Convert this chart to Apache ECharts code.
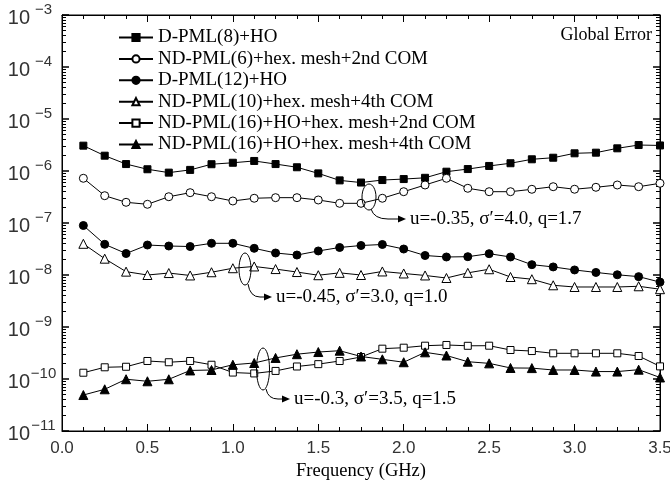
<!DOCTYPE html>
<html>
<head>
<meta charset="utf-8">
<script src="https://cdn.jsdelivr.net/npm/echarts@6/dist/echarts.min.js"></script>
<style>html,body{margin:0;padding:0;background:#fff;}#c{width:670px;height:481px;}</style>
</head>
<body>
<div id="c"></div>
<script>
// ---- data ----
const freqs = [0.125,0.25,0.375,0.5,0.625,0.75,0.875,1.0,1.125,1.25,1.375,1.5,1.625,1.75,1.875,2.0,2.125,2.25,2.375,2.5,2.625,2.75,2.875,3.0,3.125,3.25,3.375,3.5];
const seriesNames = [
  'D-PML(8)+HO',
  'ND-PML(6)+hex. mesh+2nd COM',
  'D-PML(12)+HO',
  'ND-PML(10)+hex. mesh+4th COM',
  'ND-PML(16)+HO+hex. mesh+2nd COM',
  'ND-PML(16)+HO+hex. mesh+4th COM'
];
const dpml8 = [3.07e-6,1.97e-6,1.36e-6,1.08e-6,9.3e-7,1.05e-6,1.35e-6,1.44e-6,1.56e-6,1.36e-6,1.18e-6,9.0e-7,6.6e-7,6.0e-7,6.7e-7,7.0e-7,7.4e-7,9.7e-7,1.09e-6,1.25e-6,1.41e-6,1.68e-6,1.80e-6,2.19e-6,2.25e-6,2.73e-6,3.16e-6,3.1e-6];
const ndpml6 = [7.24e-7,3.35e-7,2.50e-7,2.29e-7,3.2e-7,3.83e-7,3.2e-7,2.65e-7,2.99e-7,3.07e-7,3.07e-7,2.77e-7,2.39e-7,2.39e-7,2.99e-7,4.0e-7,5.38e-7,7.24e-7,4.65e-7,4.0e-7,4.0e-7,4.45e-7,4.99e-7,4.46e-7,4.86e-7,5.38e-7,4.99e-7,5.8e-7];
const dpml12 = [8.95e-8,3.89e-8,2.59e-8,3.77e-8,3.61e-8,3.53e-8,4.07e-8,4.07e-8,3.26e-8,2.65e-8,2.42e-8,2.9e-8,3.38e-8,3.69e-8,3.86e-8,3.16e-8,2.37e-8,2.22e-8,2.25e-8,2.57e-8,2.22e-8,1.58e-8,1.43e-8,1.25e-8,1.12e-8,1.01e-8,9.3e-9,7.3e-9];
const ndpml10 = [3.98e-8,2.06e-8,1.16e-8,1.0e-8,1.09e-8,9.8e-9,1.13e-8,1.35e-8,1.46e-8,1.30e-8,1.14e-8,9.9e-9,1.10e-8,1.0e-8,1.17e-8,1.07e-8,9.8e-9,8.75e-9,1.10e-8,1.29e-8,9.15e-9,8.3e-9,6.34e-9,5.88e-9,5.88e-9,5.88e-9,6.07e-9,5.33e-9];
const ndpml16a = [1.32e-10,1.68e-10,1.72e-10,2.22e-10,2.1e-10,2.22e-10,1.88e-10,1.33e-10,1.28e-10,1.43e-10,1.74e-10,1.93e-10,2.22e-10,2.65e-10,3.83e-10,4.0e-10,4.37e-10,4.51e-10,4.35e-10,4.37e-10,3.61e-10,3.45e-10,3.12e-10,3.12e-10,3.12e-10,3.12e-10,2.77e-10,1.75e-10];
const ndpml16b = [4.92e-11,6.34e-11,9.9e-11,9.04e-11,9.87e-11,1.46e-10,1.49e-10,1.88e-10,2.03e-10,2.54e-10,3.0e-10,3.3e-10,3.5e-10,2.71e-10,2.39e-10,2.1e-10,3.26e-10,2.83e-10,2.15e-10,2.0e-10,1.63e-10,1.62e-10,1.49e-10,1.49e-10,1.39e-10,1.39e-10,1.51e-10,1.07e-10];
const yExponents = [-11,-10,-9,-8,-7,-6,-5,-4,-3];
const xTickLabels = ['0.0','0.5','1.0','1.5','2.0','2.5','3.0','3.5'];
const annotationTexts = ['u=-0.35, σ′=4.0, q=1.7','u=-0.45, σ′=3.0, q=1.0','u=-0.3, σ′=3.5, q=1.5'];
const titleText = 'Global Error';
const xName = 'Frequency (GHz)';

// ---- build ----
const yMajor = yExponents.map(e => Math.pow(10, e));
const yMinor = [];
yExponents.slice(0, -1).forEach(e => { for (let m = 2; m <= 9; m++) yMinor.push(m * Math.pow(10, e)); });

const SERIF = '"Liberation Serif","Times New Roman",serif';
const SANS = '"Liberation Sans",Arial,sans-serif';

const styles = [
  {symbol:'rect', size:7, fill:'#000'},
  {symbol:'circle', size:8, fill:'#fff'},
  {symbol:'circle', size:8, fill:'#000'},
  {symbol:'triangle', size:9, fill:'#fff'},
  {symbol:'rect', size:7, fill:'#fff'},
  {symbol:'triangle', size:9, fill:'#000'}
];
const allData = [dpml8, ndpml6, dpml12, ndpml10, ndpml16a, ndpml16b];

const series = allData.map((vals, i) => ({
  name: seriesNames[i],
  type: 'line',
  xAxisIndex: 0, yAxisIndex: 0,
  data: freqs.map((f, k) => [f, vals[k]]),
  symbol: styles[i].symbol,
  symbolSize: styles[i].size,
  showAllSymbol: true,
  lineStyle: {color:'#000', width:1},
  itemStyle: {color: styles[i].fill, borderColor:'#000', borderWidth:1},
  emphasis: {disabled: true},
  animation: false,
  z: 3 + i
}));

const chart = echarts.init(document.getElementById('c'), null, {renderer:'canvas'});
const box = {left:62, right:10, top:15, bottom:50, containLabel:false, outerBoundsMode:'none'};
const grids = [0,1,2,3].map(gi => Object.assign({}, box, gi === 0 ? {show:true, borderColor:'#000', borderWidth:1, backgroundColor:'rgba(0,0,0,0)'} : {}));

const mkLine = show => ({show: show, onZero:false, lineStyle:{color:'#000', width:1}});
const hiddenX = gi => ({type:'value', gridIndex:gi, min:0, max:3.5, show:false, axisLine:{onZero:false}});
const mkY = (gi, pos, ticks, len, width, showLine, label) => ({
  type:'log', gridIndex:gi, position:pos, min:1e-11, max:1e-3, logBase:10,
  axisLine: mkLine(showLine),
  axisTick:{show:true, inside:true, length:len, customValues: ticks, lineStyle:{color:'#000', width:width}},
  axisLabel: label || {show:false},
  splitLine:{show:false}
});

const yLabel = {
  show:true, customValues: yMajor, margin:5,
  formatter: v => '{b|10}{s|−' + Math.abs(Math.round(Math.log10(v))) + '}',
  rich:{
    b:{fontFamily: SANS, fontSize:20, color:'#333', verticalAlign:'bottom', lineHeight:26},
    s:{fontFamily: SANS, fontSize:15, color:'#333', verticalAlign:'top', lineHeight:26, width:27, align:'left'}
  }
};

const option = {
  backgroundColor: '#fff',
  animation: false,
  grid: grids,
  legend: {
    orient: 'vertical',
    left: 113, top: 23,
    itemWidth: 34, itemHeight: 9, itemGap: 2.4,
    data: seriesNames,
    textStyle: {fontFamily: SERIF, fontSize: 19, color:'#000', lineHeight: 19},
    selectedMode: false
  },
  xAxis: [
    {type:'value', gridIndex:0, position:'bottom', min:0, max:3.5, interval:0.5,
     name: xName, nameLocation:'middle', nameGap: 28,
     nameTextStyle:{fontFamily: SERIF, fontSize: 18.5, color:'#000'},
     axisLine: mkLine(true),
     axisTick:{show:true, inside:true, length:7, lineStyle:{color:'#000'}},
     minorTick:{show:true, splitNumber:4, length:4, lineStyle:{color:'#000'}},
     axisLabel:{show:true, margin:9, fontFamily: SANS, fontSize:17, color:'#333',
       formatter: v => xTickLabels[Math.round(v/0.5)]},
     splitLine:{show:false}, minorSplitLine:{show:false}},
    {type:'value', gridIndex:1, position:'top', min:0, max:3.5, interval:0.5,
     axisLine: mkLine(true),
     axisTick:{show:true, inside:true, length:7, lineStyle:{color:'#000'}},
     minorTick:{show:true, splitNumber:4, length:4, lineStyle:{color:'#000'}},
     axisLabel:{show:false}, splitLine:{show:false}, minorSplitLine:{show:false}},
    hiddenX(2), hiddenX(3)
  ],
  yAxis: [
    mkY(0, 'left', yMajor, 7, 1.5, true, yLabel),
    mkY(1, 'right', yMajor, 7, 1.5, true, null),
    mkY(2, 'left', yMinor, 4, 1, false, null),
    mkY(3, 'right', yMinor, 4, 1, false, null)
  ],
  series: series
};
chart.setOption(option);

// ---- annotations (ellipses, arrows, texts) ----
function arrowGroup(ell, curve, tip, txt) {
  const els = [];
  els.push({type:'ellipse', shape:{cx:ell[0], cy:ell[1], rx:ell[2], ry:ell[3]},
    style:{fill:'none', stroke:'#000', lineWidth:1}, z:20});
  els.push({type:'bezierCurve', shape:{x1:curve[0], y1:curve[1], cpx1:curve[2], cpy1:curve[3], x2:curve[4], y2:curve[5]},
    style:{fill:'none', stroke:'#000', lineWidth:1}, z:20});
  els.push({type:'line', shape:{x1:curve[4], y1:curve[5], x2:tip[0]-6, y2:tip[1]},
    style:{stroke:'#000', lineWidth:1}, z:20});
  els.push({type:'polygon', shape:{points:[[tip[0],tip[1]],[tip[0]-8,tip[1]-3.5],[tip[0]-8,tip[1]+3.5]]},
    style:{fill:'#000'}, z:20});
  els.push({type:'text', x: tip[0]+4, y: tip[1], style:{text: txt, fontFamily: SERIF, fontSize:19, fill:'#000', verticalAlign:'middle', align:'left'}, z:20});
  return els;
}
const graphics = []
  .concat(arrowGroup([369,197,7,13],[371,209,374,219,388,219],[406,219],annotationTexts[0]))
  .concat(arrowGroup([245,269,6,16],[248,284,250,297,260,297],[272,297],annotationTexts[1]))
  .concat(arrowGroup([263,369,6.5,21],[266,389,268,399,278,399],[290,399],annotationTexts[2]));
graphics.push({type:'text', x: 652, y: 35, style:{text: titleText, fontFamily: SERIF, fontSize:18, fill:'#000', align:'right', verticalAlign:'middle'}, z:20});
chart.setOption({graphic: graphics});
</script>
</body>
</html>
